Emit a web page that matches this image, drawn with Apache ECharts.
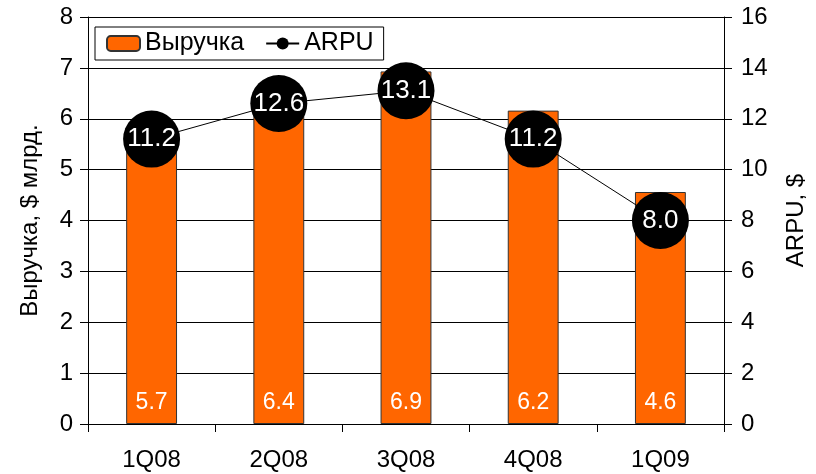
<!DOCTYPE html>
<html>
<head>
<meta charset="utf-8">
<script src="https://cdn.jsdelivr.net/npm/echarts@6/dist/echarts.min.js"></script>
<style>
  html, body { margin: 0; padding: 0; background: #fff; }
  #chart { width: 816px; height: 474px; }
</style>
</head>
<body>
<div id="chart"></div>
<script>
// данные
const quarters = ['1Q08', '2Q08', '3Q08', '4Q08', '1Q09']
const revenue = [5.7, 6.4, 6.93, 6.16, 4.56]
const arpu = [11.2, 12.6, 13.1, 11.2, 8.0]

const font = 'Liberation Sans, Arial, sans-serif'

const chart = echarts.init(document.getElementById('chart'))
chart.setOption({
  animation: false,
  textStyle: { fontFamily: font },
  grid: { left: 88, right: 88, top: 17, bottom: 50 },
  legend: {
    left: 95,
    top: 27,
    padding: [4, 10, 4, 11],
    borderColor: '#000',
    borderWidth: 1,
    backgroundColor: '#fff',
    itemWidth: 33,
    itemHeight: 15,
    itemGap: 21,
    textStyle: { fontSize: 25, color: '#000', fontFamily: font },
    data: ['Выручка', 'ARPU']
  },
  xAxis: {
    type: 'category',
    data: quarters,
    axisLine: { lineStyle: { color: '#000', width: 1 } },
    axisTick: { show: true, length: 8, inside: false, lineStyle: { color: '#000' } },
    axisLabel: { fontSize: 24, color: '#000', margin: 24 }
  },
  yAxis: [
    {
      type: 'value',
      min: 0,
      max: 8,
      interval: 1,
      name: 'Выручка, $ млрд.',
      nameLocation: 'middle',
      nameGap: 46,
      nameTextStyle: { fontSize: 24, color: '#000' },
      axisLine: { show: true, lineStyle: { color: '#000' } },
      axisTick: { show: true, length: 8, lineStyle: { color: '#000' } },
      axisLabel: { fontSize: 24, color: '#000', margin: 15 },
      splitLine: { show: true, lineStyle: { color: '#000', width: 1 } }
    },
    {
      type: 'value',
      min: 0,
      max: 16,
      interval: 2,
      name: 'ARPU, $',
      nameLocation: 'middle',
      nameGap: 60,
      nameTextStyle: { fontSize: 24, color: '#000' },
      axisLine: { show: true, lineStyle: { color: '#000' } },
      axisTick: { show: true, length: 8, lineStyle: { color: '#000' } },
      axisLabel: { fontSize: 24, color: '#000', margin: 17 },
      splitLine: { show: false }
    }
  ],
  series: [
    {
      name: 'Выручка',
      type: 'bar',
      data: revenue,
      barWidth: '40%',
      itemStyle: { color: '#FF6600', borderColor: '#333', borderWidth: 1 },
      label: {
        show: true,
        position: 'insideBottom',
        distance: 10,
        color: '#fff',
        fontSize: 23,
        formatter: p => p.value.toFixed(1)
      },
      z: 2
    },
    {
      name: 'ARPU',
      type: 'line',
      yAxisIndex: 1,
      data: arpu,
      symbol: 'circle',
      symbolSize: 57,
      lineStyle: { color: '#000', width: 1 },
      itemStyle: { color: '#000' },
      label: {
        show: true,
        position: 'inside',
        color: '#fff',
        fontSize: 26,
        formatter: p => p.value.toFixed(1)
      },
      z: 3
    }
  ]
})
</script>
</body>
</html>
